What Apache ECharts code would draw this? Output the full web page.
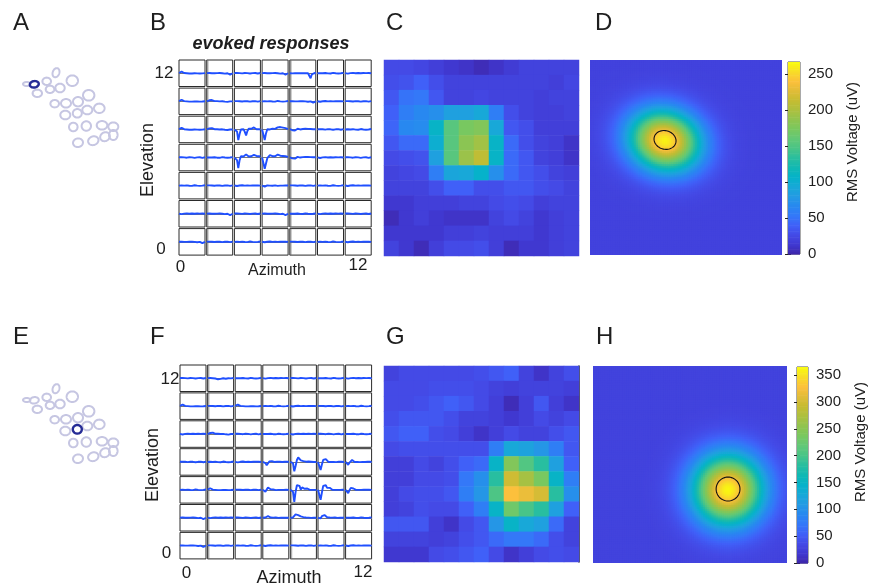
<!DOCTYPE html>
<html><head><meta charset="utf-8">
<script src="https://cdn.jsdelivr.net/npm/echarts@6/dist/echarts.min.js"></script>
<style>html,body{margin:0;padding:0;background:#fff}#c{width:870px;height:586px}</style>
</head><body><div id="c"></div>
<script>
const FONT = '"Liberation Sans", Arial, Helvetica, sans-serif';
const TXT = '#1e1e1e';

// ---------------- data ----------------
const positions13 = ['0','1','2','3','4','5','6','7','8','9','10','11','12'];
const colourTicks = 50;

// Panel C: RMS response per location (% of colour scale), rows from elevation 12 (top) to 0
const cRms = [
  [10,10, 9, 7, 5, 4, 2, 4, 6, 8, 8, 8, 8],
  [11,12,15,11, 8, 8, 8, 8, 8, 8, 8, 7, 9],
  [13,19,20,13, 8, 8, 9, 8, 8, 8, 7, 8, 8],
  [15,22,25,27,32,32,35,22,11, 8, 7, 7, 8],
  [16,25,26,41,58,65,67,35,13,11, 7, 7, 7],
  [13,17,17,38,58,69,73,41,17,11, 8, 7, 4],
  [10,11,12,32,58,72,79,41,17,13, 8, 7, 4],
  [ 8, 9,10,22,34,35,40,27,17,13,11, 8, 7],
  [ 8, 8, 8,11,15,15,11,11,13,13,11,10, 8],
  [ 5, 5, 7, 7, 7, 8, 8,10,11,10, 7, 8, 8],
  [ 2, 5, 7, 5, 4, 4, 4, 8,10, 8, 5, 7, 8],
  [ 5, 5, 5, 5, 7, 7, 8, 7, 7, 7, 5, 7, 8],
  [ 8, 5, 2, 7,10,10,11, 7, 2, 5, 5, 7, 8]
];
// Panel G
const gRms = [
  [ 8,10,10,10,10,10,11,13,15, 8, 4, 8,11],
  [10,10,10,11,11,11,10, 8, 7, 8, 8, 8, 7],
  [10,10,11,13,15,13,10, 7, 2, 7,13, 7, 4],
  [11,13,13,13,11, 8, 8, 7, 5, 7,10, 8,10],
  [13,15,15,11,10, 7, 4, 7,10, 8, 8,11,13],
  [10,11,11,11,11,11,11,22,35,33,29,22,13],
  [ 7, 7,10, 8,11,15,17,41,67,57,50,32,15],
  [ 7, 7,10,10,11,20,27,50,82,74,65,41,22],
  [ 7,10,11,11,13,22,29,56,90,87,83,50,27],
  [ 7, 8,11,10,10,15,22,41,63,55,50,32,15],
  [13,13,13, 7, 4,10,13,29,41,35,32,17, 8],
  [ 8, 8, 8, 7, 8,11,13,17,20,20,17,11, 8],
  [ 5, 5, 5,10,11,13,15,10, 4, 7,10,11,10]
];

// Gaussian fits: [baseline uV, amplitude uV, centre azimuth, centre elevation, sigma az, sigma el, tilt deg]
const dFit = [21, 242, 4.58, 7.17, 1.65, 1.35, -15];
const dContourUv = 239;
const dScaleMax = 267;
const hFit = [29, 333, 8.55, 4.38, 1.6, 1.58, 0];
const hContourUv = 323;
const hScaleMax = 365;

// electrode array layout (arbitrary units)
const electrodeX  = [16.7,24.3,27.3,36.7,46.0,40.0,50.0,62.3,44.7,56.0,68.0,78.7,55.3,67.3,77.3,89.3,63.3,76.3,92.0,103.3,103.3,95.0,83.3,68.0];
const electrodeY  = [24.0,24.3,33.3,21.3,12.7,29.3,28.0,20.7,43.7,43.3,41.7,35.3,55.0,53.3,50.0,48.3,67.0,66.0,65.3,66.7,75.0,76.7,80.7,82.7];
const electrodeRx = [3.7,4.5,4.7,4.3,3.3,4.3,4.7,5.7,4.3,5.0,5.0,5.7,5.0,4.5,5.0,5.3,4.3,4.7,5.3,5.0,4.3,5.0,5.3,5.0];
const electrodeRy = [2.0,3.2,3.7,3.7,4.7,3.7,4.3,5.3,3.7,4.3,4.7,5.3,4.3,4.3,4.3,4.7,4.3,4.7,4.3,4.3,5.0,4.3,4.3,4.3];
const electrodeTilt = [0,-10,0,0,20,0,0,0,0,0,0,0,0,0,0,0,0,0,0,0,0,-30,-20,-10];
const highlightA = 1;
const highlightE = 13;

// evoked response traces (normalised voltage, 21 samples)
const quietA = [0.02,0.05,0.02,-0.02,0.01,0.03,-0.01,0.00,0.02,-0.02,0.01,0.00,-0.02,0.02,0.01,-0.01,0.02,0.00,-0.02,0.01,0.02];
const quietB = [0.00,-0.02,0.01,0.03,0.00,-0.03,0.02,0.01,-0.01,0.02,-0.02,0.00,0.03,-0.01,0.00,0.02,-0.02,0.01,0.00,-0.01,0.03];
const quietC = [0.01,0.00,-0.03,0.02,0.01,0.00,0.03,-0.02,0.00,0.01,0.02,-0.01,0.00,-0.02,0.02,0.00,0.01,-0.03,0.02,0.01,0.00];
const bumpEarly = [0.02,0.06,0.12,0.08,0.02,-0.02,0.00,-0.03,-0.02,0.00,-0.02,-0.03,0.00,-0.02,-0.01,0.00,-0.02,-0.03,-0.01,0.00,0.01];
const bumpEarly2 = [0.00,0.02,0.08,0.18,0.10,0.04,0.02,0.06,0.02,-0.01,0.00,-0.02,0.01,-0.03,-0.02,0.00,-0.04,-0.03,0.00,-0.02,0.00];
const dipLate = [0.01,0.00,0.02,-0.01,0.00,0.02,0.00,-0.02,0.01,0.00,0.02,-0.01,0.00,-0.02,-0.03,-0.02,0.00,-0.04,-0.10,-0.03,0.00];
const dipMid = [0.01,0.00,0.02,-0.01,0.00,0.02,-0.02,-0.03,-0.08,-0.12,-0.05,-0.02,0.00,-0.03,-0.04,-0.02,0.00,0.01,-0.01,0.00,0.02];
const spikeLate = [0.00,0.02,-0.01,0.00,0.01,-0.02,0.00,0.02,0.00,-0.01,0.01,-0.02,0.00,0.01,0.00,-0.05,-0.38,-0.08,0.00,0.02,0.00];
const dipSmallEarly = [0.02,0.00,-0.06,-0.18,-0.08,0.02,0.05,0.03,0.00,0.04,0.03,0.02,0.05,0.03,0.04,0.02,0.03,0.01,0.02,0.03,0.02];
const tinyDipEarly = [0.00,0.00,-0.08,-0.04,0.02,0.01,0.00,0.02,-0.01,0.00,0.02,0.00,-0.02,0.01,0.00,0.02,0.00,-0.01,0.01,0.00,0.01];
const bResp1 = [0.00,0.02,-0.15,-0.80,-0.35,0.00,0.08,0.02,-0.18,-0.45,-0.12,0.05,0.12,0.05,0.10,0.15,0.06,0.02,0.04,0.02,0.00];
const bResp2 = [0.00,-0.10,-0.80,-0.30,0.02,0.08,0.00,-0.12,0.05,0.12,0.04,0.10,0.16,0.10,0.18,0.12,0.14,0.18,0.10,0.05,0.02];
const bResp3 = [0.00,0.02,-0.20,-0.80,-0.20,0.10,0.20,0.08,0.05,0.24,0.12,0.08,0.20,0.10,0.14,0.20,0.10,0.12,0.14,0.10,0.08];
const bResp4 = [0.00,-0.12,-0.85,-0.45,-0.05,0.08,0.18,0.04,0.10,0.22,0.10,0.14,0.22,0.18,0.14,0.10,0.12,0.10,0.10,0.08,0.05];
const fDip0 = [0.00,0.02,-0.08,-0.25,-0.10,0.04,0.08,0.05,0.02,0.00,0.03,0.02,0.00,0.02,0.04,0.00,-0.02,0.02,0.00,0.01,0.00];
const fResp1 = [0.00,0.00,-0.10,-0.70,-0.30,0.15,0.35,0.32,0.12,0.00,0.06,0.10,0.02,0.00,0.03,0.00,0.02,-0.02,0.00,0.01,0.00];
const fResp2 = [0.00,0.02,-0.60,-0.20,0.15,0.30,0.22,0.08,0.00,0.04,0.00,0.03,0.00,0.02,-0.01,0.00,0.02,0.00,0.01,0.00,0.00];
const fSmall1 = [0.00,-0.04,-0.22,-0.05,0.10,0.15,0.06,0.00,0.02,0.00,0.01,-0.01,0.02,0.00,0.01,0.00,-0.01,0.01,0.00,0.02,0.00];
const fSmall2 = [0.00,0.00,-0.15,0.02,0.18,0.14,0.05,0.00,0.03,0.00,-0.02,0.01,0.00,0.02,0.00,0.01,0.00,-0.01,0.02,0.00,0.00];
const fResp3 = [0.00,0.00,-0.15,-0.90,-0.15,0.35,0.45,0.30,0.02,0.18,0.25,0.08,0.00,0.10,0.04,0.00,0.02,0.00,0.01,0.00,0.00];
const fResp4 = [0.00,0.02,-0.75,-0.20,0.30,0.45,0.35,0.15,0.08,0.15,0.05,0.00,0.02,0.00,0.01,0.00,0.02,0.00,0.00,0.01,0.00];
const fSmall3 = [0.00,-0.05,-0.25,-0.02,0.15,0.20,0.10,0.02,0.00,0.02,0.00,0.01,0.00,-0.01,0.01,0.00,0.02,0.00,0.01,0.00,0.00];
const fBump1 = [0.00,0.00,0.02,0.10,0.25,0.30,0.20,0.05,0.10,0.15,0.05,0.00,0.02,0.00,0.01,0.00,-0.01,0.01,0.00,0.00,0.00];
const fBump2 = [0.00,0.00,-0.05,0.12,0.25,0.20,0.10,0.04,0.00,0.02,0.00,0.01,0.00,0.02,0.00,-0.01,0.01,0.00,0.00,0.01,0.00];
const fBump3 = [0.00,0.01,0.02,0.06,0.12,0.08,0.02,0.00,0.01,0.00,0.02,0.00,-0.01,0.01,0.00,0.02,0.00,-0.03,0.00,0.01,0.00];

const bLayout = [
  [bumpEarly, dipLate, quietA, dipLate, spikeLate, quietB, quietC],
  [bumpEarly, bumpEarly2, quietA, quietB, dipLate, quietC, quietA],
  [bumpEarly, bumpEarly2, bResp1, bResp2, dipSmallEarly, quietA, quietB],
  [quietA, quietB, bResp3, bResp4, dipSmallEarly, quietC, quietA],
  [quietB, quietA, quietC, tinyDipEarly, quietA, quietB, quietC],
  [quietC, dipLate, quietA, dipLate, quietB, quietC, quietA],
  [dipLate, quietA, quietB, quietC, quietA, quietB, quietC]
];
const fLayout = [
  [quietA, dipMid, quietB, quietC, quietA, quietB, quietC],
  [bumpEarly, quietA, bumpEarly, quietB, quietC, quietA, quietB],
  [quietC, bumpEarly2, quietA, quietB, quietC, quietA, quietB],
  [quietA, quietB, quietC, fDip0, fResp1, fResp2, fSmall1],
  [quietB, bumpEarly, quietA, fSmall2, fResp3, fResp4, fSmall3],
  [dipLate, quietC, quietA, fBump3, fBump1, fBump2, quietB],
  [dipLate, quietA, quietB, quietC, quietA, quietB, quietC]
];

// ---------------- build ----------------
const parula = ['#3e26a8','#4038d0','#444ae6','#4060f8','#3478f8','#2888f0','#249ae4','#18a8d8','#06b2ca','#10b8b4','#28bea0','#48c488','#62c878','#78c860','#90c450','#acc040','#c4bc32','#e0bc38','#fcc03c','#f8dc28','#f9fb0e'];
const grid = [], xAxis = [], yAxis = [], series = [], visualMap = [], graphic = [];
function addGrid(g, xa, ya) {
  const gi = grid.length; grid.push(g);
  xAxis.push(Object.assign({gridIndex: gi}, xa));
  yAxis.push(Object.assign({gridIndex: gi}, ya));
  return {gi, xi: xAxis.length - 1, yi: yAxis.length - 1};
}

// --- electrode panels
function electrodePanel(top, hi) {
  const g = addGrid({left: 10, top, width: 120, height: 100},
    {type: 'value', min: 0, max: 120, show: false},
    {type: 'value', min: 0, max: 100, inverse: true, show: false});
  const data = electrodeX.map((x, i) => [x, electrodeY[i], electrodeRx[i], electrodeRy[i], electrodeTilt[i], i === hi ? 1 : 0]);
  data.sort((a, b) => a[5] - b[5]);
  series.push({type: 'custom', xAxisIndex: g.xi, yAxisIndex: g.yi, silent: true, data,
    renderItem(params, api) {
      const cx = api.value(0), cy = api.value(1), rx = api.value(2), ry = api.value(3);
      const th = api.value(4) * Math.PI / 180, hl = api.value(5) === 1;
      const pts = [];
      for (let k = 0; k < 48; k++) {
        const t = k / 48 * 2 * Math.PI;
        const ex = rx * Math.cos(t), ey = ry * Math.sin(t);
        pts.push(api.coord([cx + ex * Math.cos(th) - ey * Math.sin(th), cy + ex * Math.sin(th) + ey * Math.cos(th)]));
      }
      return {type: 'polygon', shape: {points: pts}, style: {fill: 'none', stroke: hl ? '#262c96' : '#c6c6e2', lineWidth: hl ? 2.4 : 2}};
    }});
}
electrodePanel(60, highlightA);
electrodePanel(376, highlightE);

// --- trace panels
function tracePanel(x0, y0, px, py, w, h, layout) {
  layout.forEach((row, r) => row.forEach((shape, c) => {
    const g = addGrid({left: x0 + c * px, top: y0 + r * py, width: w, height: h, show: true, borderColor: '#2a2a2a', borderWidth: 1},
      {type: 'value', min: 0, max: 20, axisLabel: {show: false}, axisTick: {show: false}, splitLine: {show: false},
       axisLine: {show: true, onZero: true, lineStyle: {color: '#777', width: 1}}},
      {type: 'value', min: -1, max: 1, show: false});
    const s = {type: 'line', xAxisIndex: g.xi, yAxisIndex: g.yi, silent: true, symbol: 'none',
      data: shape.map((v, i) => [i, v]), lineStyle: {color: '#1f4fff', width: 1.9}, z: 3};
    if (c === 1 || c === 4) {
      s.markArea = {silent: true, itemStyle: {color: 'rgba(110,110,110,0.55)'}, data: [[{xAxis: 0}, {xAxis: 1.4}]]};
    }
    series.push(s);
  }));
}
tracePanel(179, 60, 27.7, 28.1, 26, 26.5, bLayout);
tracePanel(180, 365, 27.6, 27.9, 26, 26.5, fLayout);

// --- raw maps
function cellPanel(left, top, w, h, vals, rightLine) {
  const g = addGrid({left, top, width: w, height: h},
    {type: 'category', data: positions13, show: false},
    {type: 'category', data: positions13, show: rightLine, position: 'right',
     axisLine: {show: true, lineStyle: {color: '#222', width: 1.5}}, axisTick: {show: false}, axisLabel: {show: false}, splitLine: {show: false}});
  const data = [];
  vals.forEach((row, r) => row.forEach((v, c) => data.push([c, 12 - r, v])));
  const si = series.length;
  series.push({type: 'heatmap', xAxisIndex: g.xi, yAxisIndex: g.yi, data, progressive: 0, silent: true});
  visualMap.push({type: 'continuous', show: false, min: 0, max: 100, dimension: 2, seriesIndex: [si], inRange: {color: parula}});
}
cellPanel(384, 60, 195, 196, cRms, false);
cellPanel(384, 366, 195, 196, gRms, true);

// --- fitted maps with colour bars
function fitPanel(rect, fit, level, scaleMax, barRect) {
  const N = 104, step = 13 / N;
  const g = addGrid(Object.assign({}, rect), {type: 'value', min: -0.5, max: 12.5, show: false}, {type: 'value', min: -0.5, max: 12.5, show: false});
  const [base, amp, cx, cy, sx, sy, tilt] = fit;
  const th = tilt * Math.PI / 180, co = Math.cos(th), si = Math.sin(th);
  const data = [];
  for (let i = 0; i < N; i++) for (let j = 0; j < N; j++) {
    const x = -0.5 + (i + 0.5) * step, y = -0.5 + (j + 0.5) * step;
    const dx = x - cx, dy = y - cy;
    const u = dx * co + dy * si, v = -dx * si + dy * co;
    data.push([x, y, base + amp * Math.exp(-(u * u / (2 * sx * sx) + v * v / (2 * sy * sy)))]);
  }
  const heatIdx = series.length;
  series.push({type: 'custom', xAxisIndex: g.xi, yAxisIndex: g.yi, data, progressive: 0, silent: true, clip: true,
    renderItem(params, api) {
      const x = api.value(0), y = api.value(1);
      const p0 = api.coord([x - step / 2, y - step / 2]), p1 = api.coord([x + step / 2, y + step / 2]);
      return {type: 'rect', shape: {x: p0[0], y: p1[1], width: p1[0] - p0[0] + 0.9, height: p0[1] - p1[1] + 0.9},
        style: {fill: api.visual('color')}};
    }});
  const k = Math.sqrt(-2 * Math.log((level - base) / amp));
  series.push({type: 'custom', xAxisIndex: g.xi, yAxisIndex: g.yi, silent: true, z: 5, data: [[cx, cy]],
    renderItem(params, api) {
      const pts = [];
      for (let n = 0; n < 64; n++) {
        const t = n / 64 * 2 * Math.PI;
        const a = sx * k * Math.cos(t), b = sy * k * Math.sin(t);
        pts.push(api.coord([cx + a * co - b * si, cy + a * si + b * co]));
      }
      return {type: 'polygon', shape: {points: pts}, style: {fill: 'none', stroke: '#111', lineWidth: 1.1}};
    }});
  // colour bar
  const bar = addGrid(Object.assign({show: true, borderColor: '#555', borderWidth: 1}, barRect),
    {type: 'value', min: 0, max: 1, show: false},
    {type: 'value', min: 0, max: scaleMax, interval: colourTicks, position: 'right',
     axisLine: {show: false}, splitLine: {show: false},
     axisTick: {inside: true, length: 3, lineStyle: {color: '#222'}},
     axisLabel: {fontSize: 15, color: TXT, fontFamily: FONT, margin: 8, showMaxLabel: false}});
  yAxis.push({gridIndex: bar.gi, type: 'value', min: 0, max: scaleMax, interval: colourTicks, position: 'left',
    axisLine: {show: false}, splitLine: {show: false}, axisLabel: {show: false},
    axisTick: {inside: true, length: 3, lineStyle: {color: '#222'}}});
  const steps = [];
  const nSteps = 160;
  for (let s = 0; s < nSteps; s++) {
    const v0 = s * scaleMax / nSteps, v1 = (s + 1) * scaleMax / nSteps;
    steps.push([0, v0, (v0 + v1) / 2, v1]);
  }
  const barIdx = series.length;
  series.push({type: 'custom', xAxisIndex: bar.xi, yAxisIndex: bar.yi, silent: true, data: steps, z: 1,
    renderItem(params, api) {
      const p0 = api.coord([0, api.value(1)]), p1 = api.coord([1, api.value(3)]);
      return {type: 'rect', shape: {x: p0[0], y: p1[1], width: p1[0] - p0[0], height: p0[1] - p1[1] + 0.6},
        style: {fill: api.visual('color')}};
    }});
  visualMap.push({type: 'continuous', show: false, min: 0, max: scaleMax, dimension: 2, seriesIndex: [heatIdx, barIdx], inRange: {color: parula}});
}
fitPanel({left: 590, top: 60, width: 192, height: 195}, dFit, dContourUv, dScaleMax, {left: 788, top: 62, width: 12, height: 192});
fitPanel({left: 593, top: 366, width: 194, height: 197}, hFit, hContourUv, hScaleMax, {left: 797, top: 367, width: 11, height: 196});

// --- texts
function txt(x, y, text, size, o = {}) {
  graphic.push({type: 'text', x, y, rotation: o.rot || 0, silent: true, z: 10,
    style: {text, fontSize: size, fontFamily: FONT, fill: TXT, align: o.align || 'center', textAlign: o.align || 'center',
      verticalAlign: 'middle', textVerticalAlign: 'middle', fontWeight: o.weight || 'normal', fontStyle: o.style || 'normal'}});
}
[['A',13,23],['B',150,23],['C',386,23],['D',595,23],['E',13,337],['F',150,337],['G',386,337],['H',596,337]]
  .forEach(([t, x, y]) => txt(x, y, t, 24, {align: 'left'}));
txt(271, 44, 'evoked responses', 18, {weight: 'bold', style: 'italic'});
// B axes text
txt(164, 73, '12', 17); txt(161, 249, '0', 17);
txt(180.5, 267, '0', 17); txt(358, 265, '12', 17);
txt(277, 271, 'Azimuth', 16);
txt(148, 160, 'Elevation', 18, {rot: Math.PI / 2});
// F axes text
txt(170, 379, '12', 17); txt(166.5, 553, '0', 17);
txt(186.5, 573, '0', 17); txt(363, 572, '12', 17);
txt(289, 578, 'Azimuth', 18);
txt(153, 465, 'Elevation', 18, {rot: Math.PI / 2});
// colour bar titles
txt(853, 142, 'RMS Voltage (uV)', 15, {rot: Math.PI / 2});
txt(861, 442, 'RMS Voltage (uV)', 15, {rot: Math.PI / 2});

const chart = echarts.init(document.getElementById('c'), null, {renderer: 'canvas'});
chart.setOption({animation: false, backgroundColor: '#ffffff', grid, xAxis, yAxis, series, visualMap, graphic});
</script>
</body></html>
